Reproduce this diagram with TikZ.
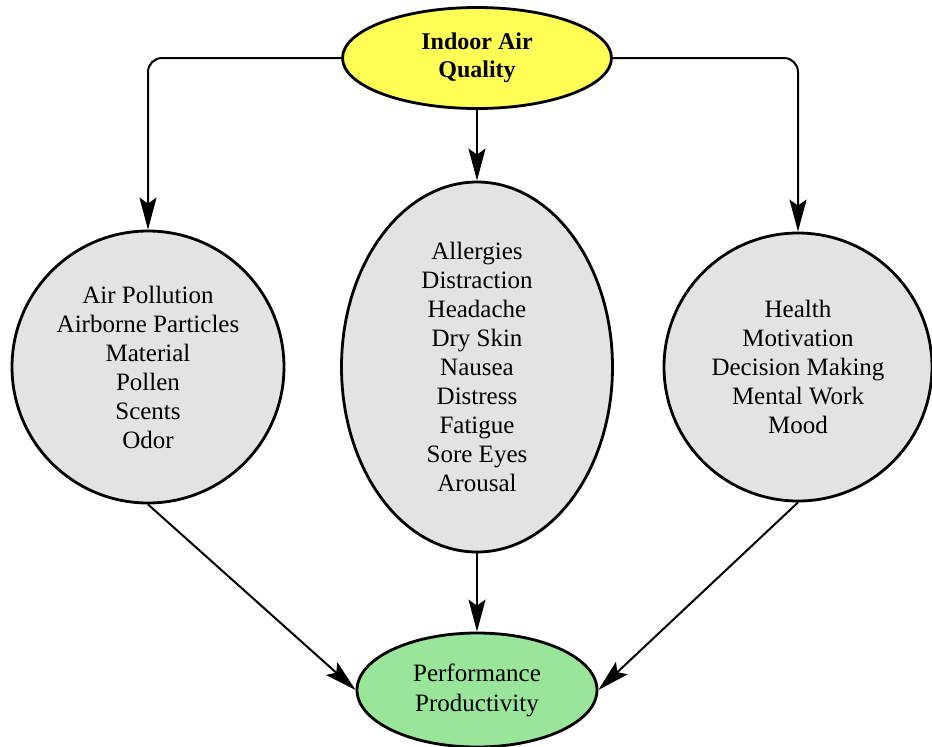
\documentclass[tikz,border=0pt]{standalone}
\usepackage{fontspec}
\setmainfont{Liberation Serif}
\usetikzlibrary{arrows.meta,shapes.geometric}
\definecolor{IAQYellow}{HTML}{FFFF55}
\definecolor{IAQGreen}{HTML}{99E59A}
\definecolor{IAQGray}{HTML}{E3E3E3}

\begin{document}
\begin{tikzpicture}[x=0.5pt,y=-0.5pt,>={Stealth[length=16pt,width=8.5pt,inset=3pt]},
  bubble/.style={draw,line width=1.4pt,align=center,inner sep=0pt,fill=IAQGray,
    font=\fontsize{12.5}{14.5}\selectfont},
  link/.style={->,line width=1pt}]
\useasboundingbox (0,0) rectangle (932,746);
\node[bubble,ellipse,fill=IAQYellow,minimum width=134.5pt,minimum height=50.5pt,
  font=\fontsize{12}{14}\selectfont\bfseries] (iaq) at (477,58) {Indoor Air\\Quality};
\node[bubble,circle,minimum size=136pt] (pollution) at (148,367)
  {Air Pollution\\Airborne Particles\\Material\\Pollen\\Scents\\Odor};
\node[bubble,ellipse,minimum width=135.5pt,minimum height=185pt] (symptoms) at (477,367)
  {Allergies\\Distraction\\Headache\\Dry Skin\\Nausea\\Distress\\Fatigue\\Sore Eyes\\Arousal};
\node[bubble,circle,minimum size=134pt] (wellbeing) at (798,367)
  {Health\\Motivation\\Decision Making\\Mental Work\\Mood};
\node[bubble,ellipse,fill=IAQGreen,minimum width=120pt,minimum height=57pt,
  font=\fontsize{12.5}{15}\selectfont] (perf) at (477,690) {Performance\\Productivity};
% top arrows
\draw[link,rounded corners=7pt] (iaq.west) -| (pollution.north);
\draw[link] (iaq) -- (symptoms);
\draw[link,rounded corners=7pt] (iaq.east) -| (wellbeing.north);
% bottom arrows
\draw[link] (pollution.south) -- (perf.west);
\draw[link] (symptoms) -- (perf);
\draw[link] (wellbeing.south) -- (perf.east);
\end{tikzpicture}
\end{document}
